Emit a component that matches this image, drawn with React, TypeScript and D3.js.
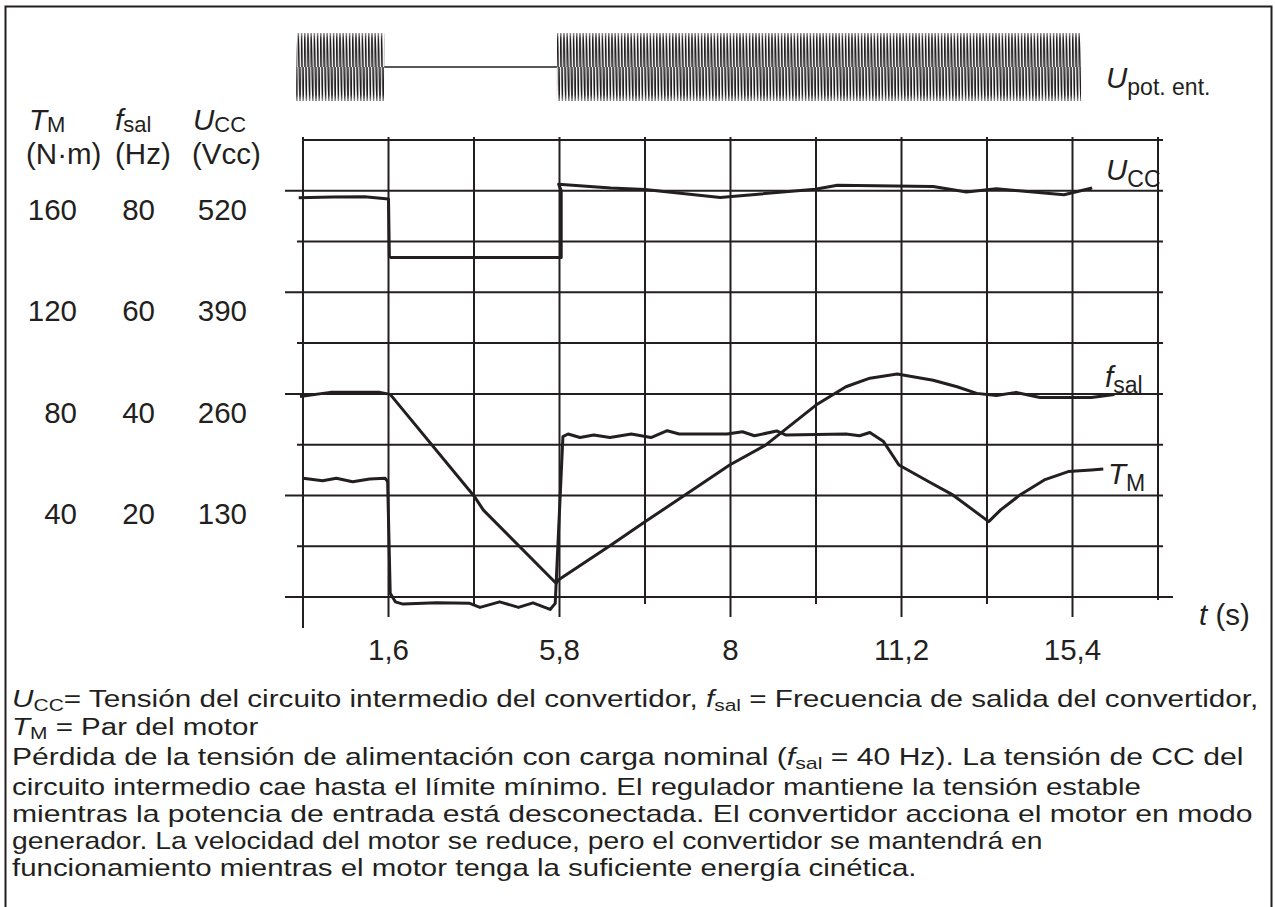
import React, { useRef, useEffect } from "react";
import * as d3 from "d3";

// schematic time axis: grid columns 0..10, labelled on the odd ones
const timeTickPos = [1, 3, 5, 7, 9];
const timeTickLabels = ["1,6", "5,8", "8", "11,2", "15,4"];

const torqueTicks = [160, 120, 80, 40];
const freqTicks = [80, 60, 40, 20];
const udcTicks = [520, 390, 260, 130];

// supply voltage present (grid units)
const supplyOn = [
  [-0.08, 0.95],
  [2.97, 9.1],
];

// DC link voltage (V)
const udc = [
  [-0.05, 511], [0.35, 512], [0.72, 512.5], [1.0, 509.5], [1.01, 436],
  [1.03, 434.5], [3.02, 434.5], [3.02, 520], [2.99, 528.5], [3.6, 523.5],
  [4.0, 521.5], [4.88, 511.5], [5.99, 522], [6.25, 527], [7.37, 525.5],
  [7.76, 518.5], [8.11, 522.5], [8.9, 515], [9.23, 523.5],
];

// output frequency (Hz)
const fout = [
  [-0.035, 39.5], [0.32, 40.3], [0.9, 40.3], [1.02, 39.9], [2.0, 19.9],
  [2.11, 17.1], [2.96, 2.7], [2.99, 3.4], [3.59, 10.1], [4.0, 14.8],
  [4.99, 26.0], [5.41, 29.9], [6.0, 37.8], [6.35, 41.4], [6.63, 43.1],
  [6.95, 43.9], [7.37, 42.7], [7.65, 41.4], [7.88, 40.1], [8.11, 39.7],
  [8.34, 40.3], [8.62, 39.3], [9.22, 39.3], [9.49, 39.9],
];

// motor torque (N·m)
const torque = [
  [0, 46.8], [0.23, 45.8], [0.39, 46.8], [0.58, 45.4], [0.78, 46.5],
  [0.96, 46.8], [0.99, 45.4], [1.02, 1.5], [1.08, -1.9], [1.17, -2.8],
  [1.56, -2.3], [1.95, -2.5], [2.07, -4.1], [2.3, -1.9], [2.52, -4.1],
  [2.69, -2.3], [2.89, -4.9], [2.95, -2.5], [3.04, 63.2], [3.1, 64.2],
  [3.24, 62.8], [3.4, 63.8], [3.59, 62.8], [3.84, 64.2], [4.07, 62.8],
  [4.26, 65.5], [4.4, 64.2], [4.96, 64.2], [5.14, 65.1], [5.28, 63.5],
  [5.54, 65.4], [5.65, 63.8], [6.35, 64.2], [6.51, 63.5], [6.63, 64.8],
  [6.79, 61.2], [6.97, 52.0], [7.32, 45.4], [7.6, 40.2], [8.02, 29.7],
  [8.16, 34.3], [8.39, 40.3], [8.67, 46.1], [8.95, 49.4], [9.22, 50.0],
  [9.36, 50.4],
];

const captionLines = [
  [{ t: "U", it: true }, { t: "CC", sub: true }, { t: "= Tensión del circuito intermedio del convertidor, " }, { t: "f", it: true }, { t: "sal", sub: true }, { t: " = Frecuencia de salida del convertidor," }],
  [{ t: "T", it: true }, { t: "M", sub: true }, { t: " = Par del motor" }],
  [{ t: "Pérdida de la tensión de alimentación con carga nominal (" }, { t: "f", it: true }, { t: "sal", sub: true }, { t: " = 40 Hz). La tensión de CC del" }],
  [{ t: "circuito intermedio cae hasta el límite mínimo. El regulador mantiene la tensión estable" }],
  [{ t: "mientras la potencia de entrada está desconectada. El convertidor acciona el motor en modo" }],
  [{ t: "generador. La velocidad del motor se reduce, pero el convertidor se mantendrá en" }],
  [{ t: "funcionamiento mientras el motor tenga la suficiente energía cinética." }],
];
const captionBaselines = [707, 735, 765, 795, 822, 849, 876];
// right end of each caption line in the reference (null: keep average stretch)
const captionEnds = [1259, null, 1244, 1141, 1253, 1043, 917];

function App() {
  const canvas = useRef(null);

  useEffect(() => {
    const ink = "#231f20";
    const svg = d3.select(canvas.current);
    svg.selectAll("*").remove();

    const x = d3.scaleLinear().domain([0, 10]).range([303, 1158]);
    const yU = d3.scaleLinear().domain([0, 585]).range([597, 140]);
    const yF = d3.scaleLinear().domain([0, 90]).range([597, 140]);
    const yT = d3.scaleLinear().domain([0, 180]).range([597, 140]);

    const rich = (xPos, yPos, parts, size, subSize, subShift) => {
      const t = svg
        .append("text")
        .attr("x", xPos)
        .attr("y", yPos)
        .attr("font-size", size)
        .attr("fill", ink)
        .style("white-space", "pre");
      let shift = 0;
      parts.forEach((p) => {
        const want = p.sub ? subShift : 0;
        const ts = t.append("tspan").text(p.t);
        if (want !== shift) {
          ts.attr("dy", want - shift);
          shift = want;
        }
        if (p.it) ts.attr("font-style", "italic");
        if (p.sub) ts.attr("font-size", subSize);
      });
      return t;
    };

    svg
      .append("rect")
      .attr("x", 5.5)
      .attr("y", 6.5)
      .attr("width", 1266)
      .attr("height", 910)
      .attr("fill", "none")
      .attr("stroke", ink)
      .attr("stroke-width", 2);

    // grid
    const grid = svg.append("g").attr("stroke", ink).attr("stroke-width", 2);
    grid
      .selectAll("line.h")
      .data(d3.range(0, 586, 65))
      .join("line")
      .attr("class", "h")
      .attr("x1", (d) => (d === 585 ? 302 : d % 130 === 0 ? 285 : 297))
      .attr("x2", (d) => (d === 0 ? 1173 : 1163))
      .attr("y1", (d) => yU(d))
      .attr("y2", (d) => yU(d));
    grid
      .selectAll("line.v")
      .data(d3.range(0, 11))
      .join("line")
      .attr("class", "v")
      .attr("x1", (d) => x(d))
      .attr("x2", (d) => x(d))
      .attr("y1", 137)
      .attr("y2", (d) =>
        d === 0 ? 628 : d === 10 ? 600 : timeTickPos.includes(d) ? 617 : 604
      );

    // supply voltage
    const defs = svg.append("defs");
    const pat = defs
      .append("pattern")
      .attr("id", "ac")
      .attr("patternUnits", "userSpaceOnUse")
      .attr("width", 3.2)
      .attr("height", 68)
      .attr("y", 33);
    pat
      .append("path")
      .attr("d", "M0,34 Q0.8,-34 1.6,34 Q2.4,102 3.2,34")
      .attr("fill", "none")
      .attr("stroke", ink)
      .attr("stroke-width", 1.2);
    supplyOn.forEach(([s, e]) => {
      svg
        .append("rect")
        .attr("x", x(s))
        .attr("y", 33)
        .attr("width", x(e) - x(s))
        .attr("height", 68)
        .attr("fill", "url(#ac)");
    });
    for (let i = 0; i < supplyOn.length - 1; i++) {
      svg
        .append("line")
        .attr("x1", x(supplyOn[i][1]))
        .attr("x2", x(supplyOn[i + 1][0]))
        .attr("y1", 67)
        .attr("y2", 67)
        .attr("stroke", ink)
        .attr("stroke-width", 1.6);
    }

    // curves
    const curve = (ys, data) =>
      svg
        .append("path")
        .attr(
          "d",
          d3
            .line()
            .x((d) => x(d[0]))
            .y((d) => ys(d[1]))(data)
        )
        .attr("fill", "none")
        .attr("stroke", ink)
        .attr("stroke-width", 3)
        .attr("stroke-linejoin", "round");
    curve(yU, udc);
    curve(yF, fout);
    curve(yT, torque);

    // left headers and tick labels
    rich(29, 130, [{ t: "T", it: true }, { t: "M", sub: true }], 29.5, 22, 2);
    rich(115, 130, [{ t: "f", it: true }, { t: "sal", sub: true }], 29.5, 22, 2);
    rich(193, 130, [{ t: "U", it: true }, { t: "CC", sub: true }], 29.5, 22, 2);
    rich(26, 164, [{ t: "(N·m)" }], 29.5, 22, 0);
    rich(115, 164, [{ t: "(Hz)" }], 29.5, 22, 0);
    rich(192, 164, [{ t: "(Vcc)" }], 29.5, 22, 0);

    const tickCols = [
      { vals: torqueTicks, right: 77 },
      { vals: freqTicks, right: 155 },
      { vals: udcTicks, right: 247 },
    ];
    tickCols.forEach((col) => {
      svg
        .append("g")
        .selectAll("text")
        .data(col.vals)
        .join("text")
        .attr("x", col.right)
        .attr("y", (d, i) => yU(udcTicks[i]) + 29)
        .attr("text-anchor", "end")
        .attr("font-size", 29.5)
        .attr("fill", ink)
        .text((d) => d);
    });

    svg
      .append("g")
      .selectAll("text")
      .data(timeTickPos)
      .join("text")
      .attr("x", (d) => x(d))
      .attr("y", 660)
      .attr("text-anchor", "middle")
      .attr("font-size", 29.5)
      .attr("fill", ink)
      .text((d, i) => timeTickLabels[i]);
    rich(1199, 625, [{ t: "t", it: true }, { t: " (s)" }], 29.5, 22, 0);

    // series labels
    rich(1106, 88, [{ t: "U", it: true }, { t: "pot. ent.", sub: true }], 29.5, 23, 7);
    rich(1106, 180, [{ t: "U", it: true }, { t: "CC", sub: true }], 29.5, 23, 7);
    rich(1105, 387, [{ t: "f", it: true }, { t: "sal", sub: true }], 29.5, 23, 6);
    rich(1108, 484, [{ t: "T", it: true }, { t: "M", sub: true }], 29.5, 23, 7);

    // caption: slightly wide lettering, each line stretched to its length
    const x0 = 12;
    const caps = captionLines.map((parts) => rich(0, 0, parts, 24, 17, 4));
    const stretch = caps.map((t, i) => {
      const len = t.node().getComputedTextLength();
      return captionEnds[i] && len > 0 ? (captionEnds[i] - x0) / len : null;
    });
    const known = stretch.filter((s) => s);
    const avg = known.length ? d3.mean(known) : 1.2;
    caps.forEach((t, i) => {
      t.attr(
        "transform",
        `translate(${x0},${captionBaselines[i]}) scale(${stretch[i] || avg},1)`
      );
    });
  }, []);

  return (
    <svg
      ref={canvas}
      width={1275}
      height={907}
      style={{
        position: "absolute",
        left: 0,
        top: 0,
        display: "block",
        background: "#fff",
        fontFamily: "'Liberation Sans', Arial, sans-serif",
      }}
    />
  );
}

export default App;
